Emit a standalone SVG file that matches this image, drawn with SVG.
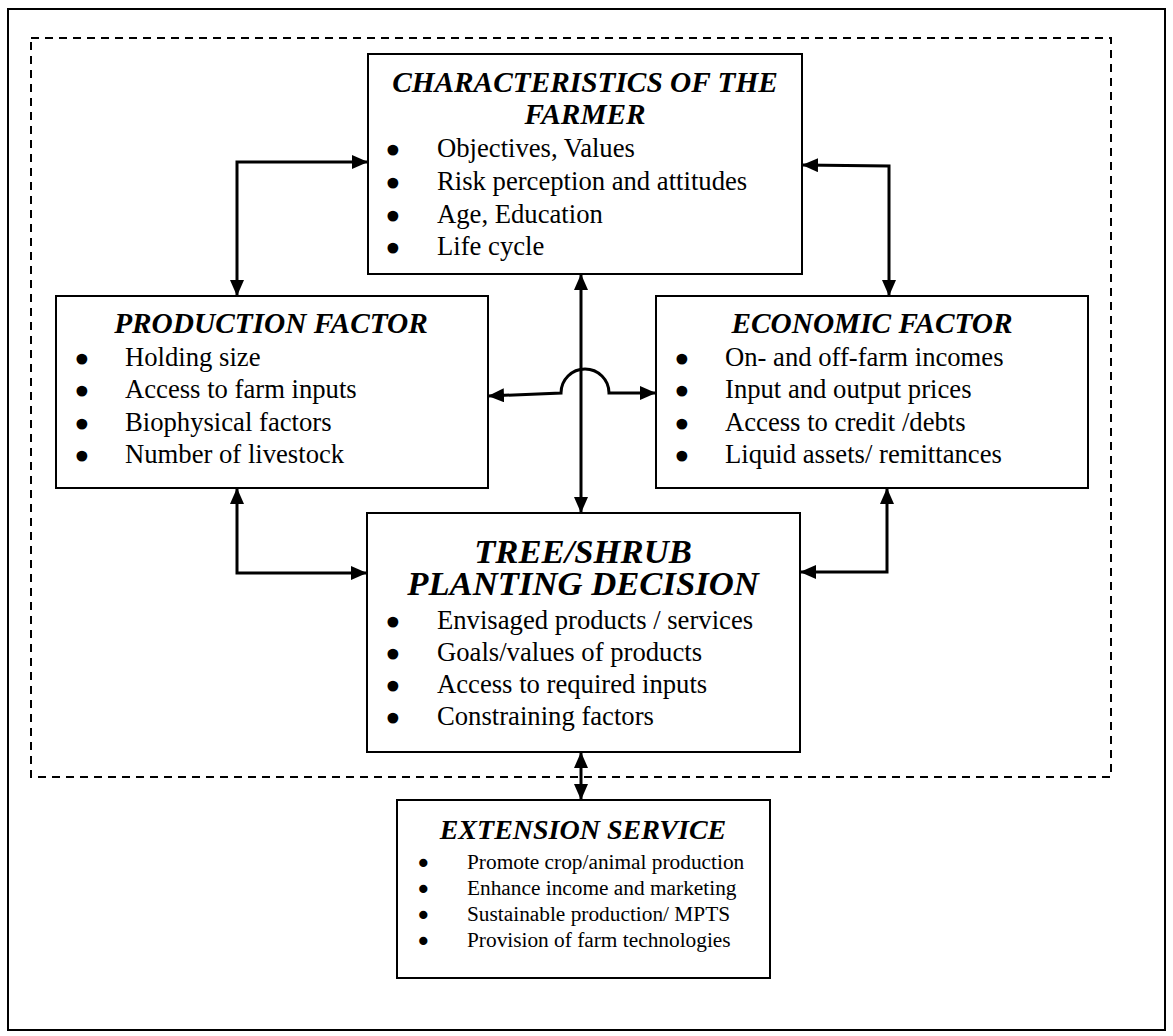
<svg xmlns="http://www.w3.org/2000/svg" width="1173" height="1036" viewBox="0 0 1173 1036">
  <style>
    .frame { fill: #fff; stroke: #000; stroke-width: 2; }
    .zone { fill: none; stroke: #000; stroke-width: 2; stroke-dasharray: 8 6; }
    .box { fill: #fff; stroke: #000; stroke-width: 2; }
    .title { font-family: "Liberation Serif", "Times New Roman", serif; font-style: italic; font-weight: bold; font-size: 29.33px; text-anchor: middle; fill: #000; }
    .title.big { font-size: 34.67px; }
    .title.small { font-size: 28px; }
    .item { font-family: "Liberation Serif", "Times New Roman", serif; font-size: 26.67px; fill: #000; }
    .item.small { font-size: 21.33px; }
    .dot { font-family: "DejaVu Sans", sans-serif; stroke: #000; stroke-width: 3px; stroke-linejoin: round; }
    .item.small .dot { stroke-width: 2px; }
    .conn { fill: none; stroke: #000; stroke-width: 3; }
  </style>
  <defs>
    <marker id="ah" viewBox="0 0 16 14" refX="16" refY="7" markerWidth="16" markerHeight="14" markerUnits="userSpaceOnUse" orient="auto-start-reverse">
      <path d="M0,0 L16,7 L0,14 z" fill="#000"/>
    </marker>
  </defs>

  <!-- outer frame and dashed system boundary -->
  <rect class="frame" x="8" y="9" width="1157" height="1021"/>
  <rect class="zone" x="31" y="38" width="1080" height="739"/>

  <!-- connectors -->
  <g id="connectors">
    <path class="conn" d="M237,296 L237,162 L368,162" marker-start="url(#ah)" marker-end="url(#ah)"/>
    <path class="conn" d="M802,165 L889,166 L889,296" marker-start="url(#ah)" marker-end="url(#ah)"/>
    <path class="conn" d="M581,513 L581,274" marker-start="url(#ah)" marker-end="url(#ah)"/>
    <path class="conn" d="M488,396 L561,393 A24,24 0 0 1 609,393 L656,393" marker-start="url(#ah)" marker-end="url(#ah)"/>
    <path class="conn" d="M237,488 L237,573 L367,573" marker-start="url(#ah)" marker-end="url(#ah)"/>
    <path class="conn" d="M887,488 L887,572 L800,572" marker-start="url(#ah)" marker-end="url(#ah)"/>
    <path class="conn" d="M581,752 L581,800" marker-start="url(#ah)" marker-end="url(#ah)"/>
  </g>

  <!-- farmer characteristics -->
  <g id="farmer">
    <rect class="box" x="368" y="54" width="434" height="220"/>
    <text class="title"><tspan x="585" y="92">CHARACTERISTICS OF THE</tspan><tspan x="585" y="124">FARMER</tspan></text>
    <text class="item" y="157"><tspan class="dot" x="385" dy="3">•</tspan><tspan x="437" dy="-3">Objectives, Values</tspan></text>
    <text class="item" y="190"><tspan class="dot" x="385" dy="3">•</tspan><tspan x="437" dy="-3">Risk perception and attitudes</tspan></text>
    <text class="item" y="223"><tspan class="dot" x="385" dy="3">•</tspan><tspan x="437" dy="-3">Age, Education</tspan></text>
    <text class="item" y="255"><tspan class="dot" x="385" dy="3">•</tspan><tspan x="437" dy="-3">Life cycle</tspan></text>
  </g>

  <!-- production factor -->
  <g id="production">
    <rect class="box" x="56" y="296" width="432" height="192"/>
    <text class="title" x="271" y="333">PRODUCTION FACTOR</text>
    <text class="item" y="366"><tspan class="dot" x="74" dy="3">•</tspan><tspan x="125" dy="-3">Holding size</tspan></text>
    <text class="item" y="398"><tspan class="dot" x="74" dy="3">•</tspan><tspan x="125" dy="-3">Access to farm inputs</tspan></text>
    <text class="item" y="431"><tspan class="dot" x="74" dy="3">•</tspan><tspan x="125" dy="-3">Biophysical factors</tspan></text>
    <text class="item" y="463"><tspan class="dot" x="74" dy="3">•</tspan><tspan x="125" dy="-3">Number of livestock</tspan></text>
  </g>

  <!-- economic factor -->
  <g id="economic">
    <rect class="box" x="656" y="296" width="432" height="192"/>
    <text class="title" x="872" y="333">ECONOMIC FACTOR</text>
    <text class="item" y="366"><tspan class="dot" x="674" dy="3">•</tspan><tspan x="725" dy="-3">On- and off-farm incomes</tspan></text>
    <text class="item" y="398"><tspan class="dot" x="674" dy="3">•</tspan><tspan x="725" dy="-3">Input and output prices</tspan></text>
    <text class="item" y="431"><tspan class="dot" x="674" dy="3">•</tspan><tspan x="725" dy="-3">Access to credit /debts</tspan></text>
    <text class="item" y="463"><tspan class="dot" x="674" dy="3">•</tspan><tspan x="725" dy="-3">Liquid assets/ remittances</tspan></text>
  </g>

  <!-- planting decision -->
  <g id="decision">
    <rect class="box" x="367" y="513" width="433" height="239"/>
    <text class="title big"><tspan x="583" y="563">TREE/SHRUB</tspan><tspan x="583" y="595">PLANTING DECISION</tspan></text>
    <text class="item" y="629"><tspan class="dot" x="385" dy="3">•</tspan><tspan x="437" dy="-3">Envisaged products / services</tspan></text>
    <text class="item" y="661"><tspan class="dot" x="385" dy="3">•</tspan><tspan x="437" dy="-3">Goals/values of products</tspan></text>
    <text class="item" y="693"><tspan class="dot" x="385" dy="3">•</tspan><tspan x="437" dy="-3">Access to required inputs</tspan></text>
    <text class="item" y="725"><tspan class="dot" x="385" dy="3">•</tspan><tspan x="437" dy="-3">Constraining factors</tspan></text>
  </g>

  <!-- extension service -->
  <g id="extension">
    <rect class="box" x="397" y="800" width="373" height="178"/>
    <text class="title small" x="583" y="839">EXTENSION SERVICE</text>
    <text class="item small" y="869"><tspan class="dot" x="417" dy="2">•</tspan><tspan x="467" dy="-2">Promote crop/animal production</tspan></text>
    <text class="item small" y="895"><tspan class="dot" x="417" dy="2">•</tspan><tspan x="467" dy="-2">Enhance income and marketing</tspan></text>
    <text class="item small" y="921"><tspan class="dot" x="417" dy="2">•</tspan><tspan x="467" dy="-2">Sustainable production/ MPTS</tspan></text>
    <text class="item small" y="947"><tspan class="dot" x="417" dy="2">•</tspan><tspan x="467" dy="-2">Provision of farm technologies</tspan></text>
  </g>
</svg>
